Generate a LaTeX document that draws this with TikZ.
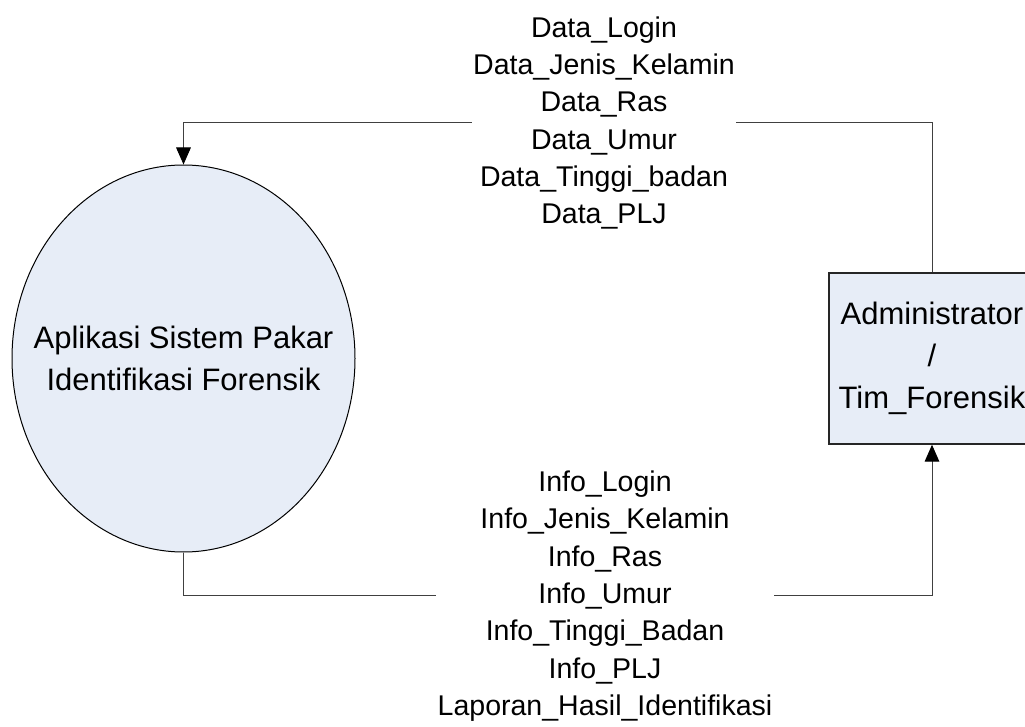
\documentclass[tikz,border=0pt]{standalone}
\usepackage{fontspec}
\setmainfont{Liberation Sans}
\usetikzlibrary{shapes.geometric,arrows.meta}
\definecolor{procfill}{RGB}{231,237,247}
\definecolor{linegray}{RGB}{64,64,64}
\begin{document}
\begin{tikzpicture}[x=0.75pt,y=-0.75pt,
  process/.style={draw=black, line width=0.75pt, fill=procfill, ellipse,
    minimum width=257.25pt, minimum height=290.25pt, inner sep=0pt},
  boxtext/.style={align=center, inner sep=0pt,
    font=\fontsize{23.25}{31.5}\selectfont},
  entity/.style={draw=black!85, line width=1.1pt, fill=procfill, rectangle,
    minimum width=154.5pt, minimum height=128.25pt, inner sep=0pt, boxtext},
  flow/.style={draw=linegray, line width=0.75pt,
    -{Triangle[length=12.75pt,width=11pt,color=black]}},
  flowlabel/.style={fill=white, inner xsep=1pt, inner ysep=0pt,
    align=center, font=\fontsize{21.4}{28}\selectfont}
]
\useasboundingbox (0,0) rectangle (1025,727);
\clip (0,0) rectangle (1025,727);

% process and external entity
\node[process] (app) at (183.5,358.5) {};
\node[boxtext] (apptext) at (app.center) {Aplikasi Sistem Pakar\\Identifikasi Forensik};
\node[entity] (adm) at (932,358.5) {Administrator\\/\\Tim\_Forensik};

% heights of the two flow routes
\coordinate (topy) at (0,123);
\coordinate (boty) at (0,595);

% data flows
\draw[flow] (adm.north) -- (adm.north |- topy) -| (app.north);
\draw[flow] (app.south) -- (app.south |- boty) -| (adm.south);

% flow labels
\node[flowlabel] (din) at (604,123) {Data\_Login\\Data\_Jenis\_Kelamin\\Data\_Ras\\Data\_Umur\\Data\_Tinggi\_badan\\Data\_PLJ};
\node[flowlabel] (dout) at (605,596) {Info\_Login\\Info\_Jenis\_Kelamin\\Info\_Ras\\Info\_Umur\\Info\_Tinggi\_Badan\\Info\_PLJ\\Laporan\_Hasil\_Identifikasi};
\end{tikzpicture}
\end{document}
